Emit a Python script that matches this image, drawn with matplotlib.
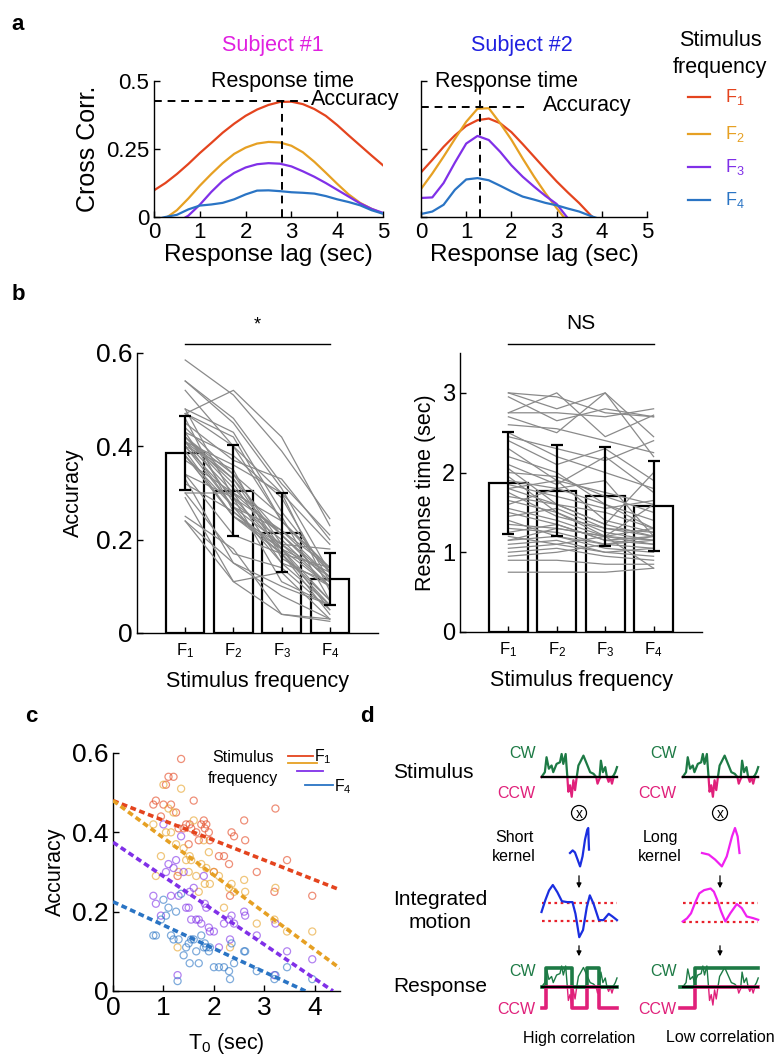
import numpy as np
import matplotlib.pyplot as plt
from matplotlib.lines import Line2D
from matplotlib.patches import Circle

plt.rcParams['font.family'] = ['Liberation Sans', 'DejaVu Sans']
plt.rcParams['mathtext.default'] = 'regular'
plt.rcParams['xtick.direction'] = 'in'
plt.rcParams['ytick.direction'] = 'in'

W, H = 774, 1055

# stimulus frequencies
freq_labels = ['F$_1$', 'F$_2$', 'F$_3$', 'F$_4$']
freq_colors = ['#e4441e', '#e6a023', '#8030e8', '#2a74c4']

# ---- panel a: cross correlation vs response lag (two subjects)
lag = np.arange(0, 5.01, 0.25)
nan = np.nan
s1_F1 = [0.098, 0.125, 0.158, 0.195, 0.235, 0.272, 0.31, 0.343, 0.372, 0.395, 0.412,
         0.423, 0.424, 0.415, 0.397, 0.372, 0.338, 0.3, 0.263, 0.226, 0.19]
s1_F2 = [-0.03, -0.005, 0.025, 0.068, 0.115, 0.158, 0.198, 0.232, 0.255, 0.27, 0.276,
         0.274, 0.262, 0.238, 0.203, 0.163, 0.122, 0.083, 0.052, 0.03, 0.013]
s1_F3 = [-0.06, -0.045, -0.02, 0.005, 0.045, 0.092, 0.133, 0.162, 0.182, 0.194, 0.198,
         0.196, 0.186, 0.168, 0.148, 0.125, 0.1, 0.075, 0.05, 0.03, 0.015]
s1_F4 = [-0.01, 0.0, 0.008, 0.028, 0.042, 0.046, 0.052, 0.065, 0.083, 0.097, 0.098,
         0.095, 0.091, 0.089, 0.086, 0.077, 0.065, 0.055, 0.043, 0.025, 0.012]
s2_F1 = [0.164, 0.21, 0.258, 0.3, 0.335, 0.356, 0.362, 0.345, 0.312, 0.268, 0.222,
         0.176, 0.131, 0.09, 0.051, 0.007, -0.03, nan, nan, nan, nan]
s2_F2 = [0.103, 0.16, 0.222, 0.287, 0.35, 0.398, 0.4, 0.345, 0.284, 0.215, 0.149,
         0.088, 0.033, -0.02, nan, nan, nan, nan, nan, nan, nan]
s2_F3 = [0.07, 0.072, 0.125, 0.2, 0.27, 0.298, 0.283, 0.24, 0.19, 0.148, 0.112,
         0.078, 0.048, -0.005, nan, nan, nan, nan, nan, nan, nan]
s2_F4 = [0.011, 0.02, 0.045, 0.1, 0.138, 0.143, 0.135, 0.115, 0.094, 0.075, 0.064,
         0.052, 0.043, 0.031, 0.02, 0.004, -0.01, nan, nan, nan, nan]
subject_titles = ['Subject #1', 'Subject #2']
subject_colors = ['#e020e0', '#2020e0']
resp_time = [2.8, 1.3]
acc_peak = [0.428, 0.405]

# ---- panel b / c: per-subject data
T0 = [0.80, 0.85, 0.95, 1.00, 1.05, 1.10, 1.15, 1.20, 1.25, 1.30, 1.35, 1.40, 1.45, 1.50,
      1.52, 1.55, 1.60, 1.65, 1.70, 1.75, 1.80, 1.82, 1.85, 1.90, 1.92, 2.00, 2.10, 2.20,
      2.30, 2.32, 2.35, 2.40, 2.60, 2.62, 2.85, 3.20, 3.22, 3.45, 3.95, 1.28]
acc_F1 = [0.47, 0.48, 0.44, 0.47, 0.52, 0.54, 0.47, 0.54, 0.45, 0.41, 0.585, 0.41, 0.42, 0.37,
          0.42, 0.41, 0.48, 0.40, 0.38, 0.42, 0.43, 0.41, 0.42, 0.40, 0.38, 0.30, 0.34, 0.34,
          0.32, 0.24, 0.40, 0.39, 0.43, 0.38, 0.30, 0.25, 0.46, 0.33, 0.24, 0.29]
acc_F2 = [0.42, 0.29, 0.34, 0.52, 0.40, 0.46, 0.40, 0.45, 0.37, 0.30, 0.51, 0.36, 0.33, 0.30,
          0.34, 0.33, 0.43, 0.29, 0.25, 0.32, 0.38, 0.27, 0.31, 0.35, 0.27, 0.30, 0.29, 0.21,
          0.26, 0.11, 0.27, 0.25, 0.28, 0.25, 0.17, 0.18, 0.26, 0.15, 0.15, 0.11]
acc_F3 = [0.24, 0.22, 0.19, 0.42, 0.30, 0.32, 0.24, 0.31, 0.33, 0.24, 0.39, 0.30, 0.21, 0.21,
          0.25, 0.18, 0.26, 0.18, 0.18, 0.17, 0.29, 0.22, 0.21, 0.16, 0.15, 0.15, 0.11, 0.17,
          0.18, 0.13, 0.19, 0.17, 0.20, 0.19, 0.14, 0.04, 0.17, 0.10, 0.08, 0.04]
acc_F4 = [0.14, 0.14, 0.18, 0.23, 0.19, 0.21, 0.14, 0.13, 0.20, 0.13, 0.245, 0.09, 0.11, 0.12,
          0.07, 0.13, 0.13, 0.10, 0.07, 0.14, 0.11, 0.12, 0.11, 0.10, 0.11, 0.06, 0.06, 0.06,
          0.05, 0.03, 0.12, 0.07, 0.10, 0.10, 0.05, 0.03, 0.04, 0.06, 0.03, 0.025]
rt_F1 = [3.0, 3.0, 2.95, 2.75, 2.75, 2.7, 2.6, 2.5, 2.4, 2.3, 2.2, 2.1, 2.05, 2.0, 1.95, 1.9,
         1.85, 1.8, 1.75, 1.7, 1.65, 1.6, 1.55, 1.5, 1.45, 1.4, 1.35, 1.3, 1.25, 1.2, 1.15,
         1.1, 1.05, 1.0, 0.9, 0.75, 0.95, 1.8, 2.45, 1.15]
rt_F2 = [2.95, 2.8, 2.65, 2.75, 3.0, 2.5, 2.55, 2.2, 2.1, 1.9, 2.0, 1.85, 1.6, 1.95, 1.5, 1.8,
         1.7, 1.9, 1.45, 1.6, 1.5, 1.8, 1.4, 1.35, 1.55, 1.2, 1.3, 1.25, 1.35, 1.1, 1.2,
         1.15, 1.1, 1.05, 0.9, 0.75, 1.0, 1.6, 2.3, 1.3]
rt_F3 = [2.75, 3.0, 2.8, 2.7, 2.45, 3.0, 2.4, 2.0, 2.3, 1.75, 1.6, 2.2, 1.35, 1.7, 1.2, 1.6,
         1.55, 1.4, 1.3, 1.5, 1.25, 1.9, 1.2, 1.15, 1.3, 1.1, 1.2, 1.1, 1.15, 1.2, 1.05,
         1.0, 1.0, 0.95, 0.85, 0.75, 1.1, 1.35, 2.15, 1.2]
rt_F4 = [2.7, 2.45, 2.7, 2.8, 2.72, 2.2, 2.25, 1.8, 1.9, 1.6, 1.3, 1.75, 1.2, 1.5, 1.15, 1.4,
         1.65, 1.25, 1.2, 1.3, 1.15, 1.2, 1.1, 1.2, 1.25, 1.15, 1.6, 1.05, 1.1, 1.3, 1.0,
         0.95, 1.05, 0.9, 0.85, 0.8, 1.2, 2.0, 2.4, 0.8]
acc_mean = [0.385, 0.305, 0.215, 0.115]
acc_sd = [0.079, 0.097, 0.085, 0.056]
rt_mean = [1.87, 1.77, 1.70, 1.58]
rt_sd = [0.635, 0.57, 0.615, 0.56]

# ---- panel c: regression lines accuracy vs T0
fit_intercept = [0.48, 0.48, 0.375, 0.225]
fit_slope = [-0.05, -0.094, -0.086, -0.059]

# ---- panel d: schematic traces (shape values, normalised)
stim_time = [0, 10, 15, 22, 30, 35, 45, 55, 60, 65, 72, 77, 80, 85, 90, 95, 100, 105, 110,
             115, 125, 135, 145, 155, 163, 167, 173, 177, 183, 190, 195, 200, 205, 210, 215,
             220, 225]
stim_value = [0, 0.21, 0.86, 0.36, 0.5, 0.21, 0.57, 0.64, 1.0, 0.57, 1.0, 0, -0.64, -0.36,
              -0.86, -0.14, -0.57, 0, 0.5, 0.64, 0.93, 0.57, 0.21, 0.14, 0, -0.29, -0.07,
              0.71, 0.21, 0.43, 0, -0.21, 0, -0.29, 0.07, 0.21, 0.43]
short_kernel_t = [0.0, 0.14, 0.26, 0.4, 0.53, 0.66, 0.79, 0.91, 0.96, 0.98, 1.0]
short_kernel_v = [-0.25, -0.12, -0.22, -0.58, -0.92, -0.42, 0.42, 0.92, 1.0, 0.42, -0.08]
long_kernel_t = [0, 0.18, 0.35, 0.53, 0.66, 0.8, 0.88, 0.95, 1.0]
long_kernel_v = [-0.25, -0.33, -0.58, -0.92, -0.42, 0.58, 1.0, 0.58, -0.25]
motion_short_t = [0, 0.05, 0.1, 0.15, 0.21, 0.27, 0.34, 0.41, 0.45, 0.5, 0.55, 0.6, 0.64,
                  0.69, 0.76, 0.82, 0.89, 0.94, 1.0]
motion_short_v = [0, 1.3, 2.4, 3.0, 2.2, 1.2, 1.1, 1.1, -0.2, -2.8, -2.0, 0.55, 1.85, 0.9,
                  -0.9, -0.9, -0.2, -0.5, -0.9]
motion_long_t = [0, 0.057, 0.11, 0.165, 0.22, 0.283, 0.37, 0.413, 0.457, 0.509, 0.565,
                 0.63, 0.717, 0.783, 0.848, 0.935, 1.0]
motion_long_v = [-1.0, -0.67, -0.14, 0.98, 1.96, 2.3, 2.47, 2.14, 1.28, 0.05, -1.0, -0.14,
                 0.84, 0.4, -0.47, -0.65, -0.82]
resp_high_edges = [0, 0.053, 0.4, 0.6, 0.756, 1.0]
resp_high_state = [-1, 1, -1, 1, -1]
resp_low_edges = [-0.03, 0.165, 1.0]
resp_low_state = [-1, 1]

green = '#1d7a45'
pink = '#e0207a'


def fx(x):
    return x / W


def fy(y):
    return 1 - y / H


def ax_rect(x0, y0, x1, y1):
    # pixel box -> figure fraction rect
    return [fx(x0), fy(y1), fx(x1) - fx(x0), fy(y0) - fy(y1)]


def matlab_style(ax, labelsize):
    for s in ['top', 'right']:
        ax.spines[s].set_visible(False)
    for s in ['left', 'bottom']:
        ax.spines[s].set_linewidth(1.0)
    ax.tick_params(labelsize=labelsize, length=4, width=1)


fig = plt.figure(figsize=(W / 100, H / 100), dpi=100)

# ================= panel a
s1 = [s1_F1, s1_F2, s1_F3, s1_F4]
s2 = [s2_F1, s2_F2, s2_F3, s2_F4]
a_boxes = [(154, 81, 383, 217), (421, 81, 647, 217)]
title_x = [273, 522]
hline_end = [3.36, 2.38]
vline_top = [0.45, 0.485]
label_x = [3.42, 2.7]
rt_label_x = [2.8, 1.9]
for k, curves in enumerate([s1, s2]):
    ax = fig.add_axes(ax_rect(*a_boxes[k]))
    for c, col in zip(curves, freq_colors):
        ax.plot(lag, c, color=col, lw=1.6)
    ax.plot([0, hline_end[k]], [acc_peak[k], acc_peak[k]], 'k--', lw=1.4, dashes=(4, 3),
            clip_on=False)
    ax.plot([resp_time[k], resp_time[k]], [0, vline_top[k]], 'k--', lw=1.4, dashes=(4, 3),
            clip_on=False)
    ax.text(rt_label_x[k], 0.5, 'Response time', ha='center', va='center', fontsize=15.5)
    ax.text(label_x[k], acc_peak[k] + 0.005, 'Accuracy', ha='left', va='center', fontsize=15.5)
    ax.set_xlim(0, 5)
    ax.set_ylim(0, 0.5)
    ax.set_xticks([0, 1, 2, 3, 4, 5])
    ax.set_yticks([0, 0.25, 0.5])
    matlab_style(ax, 16)
    if k == 0:
        ax.set_yticklabels(['0', '0.25', '0.5'])
        ax.set_ylabel('Cross Corr.', fontsize=18, labelpad=4)
    else:
        ax.set_yticklabels([])
    ax.set_xlabel('Response lag (sec)', fontsize=17.5, labelpad=1)
    fig.text(fx(title_x[k]), fy(45), subject_titles[k], color=subject_colors[k],
             ha='center', va='center', fontsize=15.5)

# legend for panel a
fig.text(fx(720), fy(41), 'Stimulus', ha='center', va='center', fontsize=15.5)
fig.text(fx(720), fy(67), 'frequency', ha='center', va='center', fontsize=15.5)
for i, (lab, col) in enumerate(zip(freq_labels, freq_colors)):
    yy = [97, 134, 167, 200][i]
    fig.add_artist(Line2D([fx(688), fx(710)], [fy(yy), fy(yy)], color=col, lw=1.6))
    fig.text(fx(735), fy(yy), lab, color=col, ha='center', va='center', fontsize=13)

# ================= panel b
xb = np.arange(1, 5)
acc_subj = list(zip(acc_F1, acc_F2, acc_F3, acc_F4))
rt_subj = list(zip(rt_F1, rt_F2, rt_F3, rt_F4))
b_sets = [
    ((137, 353, 378, 633), acc_subj, acc_mean, acc_sd, (0, 0.6), [0, 0.2, 0.4, 0.6],
     ['0', '0.2', '0.4', '0.6'], 'Accuracy', '*', 19, 8),
    ((460, 353, 702, 632), rt_subj, rt_mean, rt_sd, (0, 3.5), [0, 1, 2, 3],
     ['0', '1', '2', '3'], 'Response time (sec)', 'NS', 17, 4),
]
for box, subj, mean, sd, ylim, yt, ytl, ylab, sig, tsize, lpad in b_sets:
    ax = fig.add_axes(ax_rect(*box))
    ax.bar(xb, mean, width=0.8, facecolor='white', edgecolor='k', lw=1.6, zorder=1)
    for row in subj:
        ax.plot(xb, row, color='#8a8a8a', lw=0.9, zorder=2)
    ax.errorbar(xb, mean, yerr=sd, fmt='none', ecolor='k', elinewidth=1.6, capsize=4,
                capthick=1.6, zorder=3)
    ax.set_xlim(0, 5)
    ax.set_ylim(*ylim)
    ax.set_yticks(yt)
    ax.set_yticklabels(ytl)
    ax.set_xticks(xb)
    ax.set_xticklabels(freq_labels)
    matlab_style(ax, tsize)
    ax.tick_params(axis='x', labelsize=12, pad=6)
    ax.set_xlabel('Stimulus frequency', fontsize=15.5, labelpad=8)
    ax.set_ylabel(ylab, fontsize=15.5, labelpad=lpad)
    trans = ax.get_xaxis_transform()
    ax.plot([1, 4], [1.032, 1.032], color='k', lw=1, transform=trans, clip_on=False)
    ax.text(2.5, 1.07, sig, transform=trans, ha='center', va='bottom',
            fontsize=15 if sig == 'NS' else 13)

# ================= panel c
ax = fig.add_axes(ax_rect(113, 753, 340, 991))
accs = [acc_F1, acc_F2, acc_F3, acc_F4]
for acc, col in zip(accs, freq_colors):
    ax.scatter(T0, acc, s=26, facecolors='none', edgecolors=col, linewidths=0.9, alpha=0.6,
               zorder=2)
for b0, m, col in zip(fit_intercept, fit_slope, freq_colors):
    x_end = min(4.5, -b0 / m)
    xs = np.array([0, x_end])
    ax.plot(xs, b0 + m * xs, color=col, lw=2.6, ls=(0, (1.6, 1.0)), zorder=3)
ax.set_xlim(0, 4.5)
ax.set_ylim(0, 0.6)
ax.set_xticks([0, 1, 2, 3, 4])
ax.set_yticks([0, 0.2, 0.4, 0.6])
ax.set_yticklabels(['0', '0.2', '0.4', '0.6'])
matlab_style(ax, 19)
ax.set_xlabel('T$_0$ (sec)', fontsize=15.5, labelpad=8)
ax.set_ylabel('Accuracy', fontsize=15.5, labelpad=4)

# legend for panel c
fig.text(fx(243), fy(758), 'Stimulus', ha='center', va='center', fontsize=11.5)
fig.text(fx(243), fy(779), 'frequency', ha='center', va='center', fontsize=11.5)
c_leg = [(288, 313, 756), (288, 317, 763), (297, 323, 771), (305, 333, 785)]
for (x0, x1, yy), col in zip(c_leg, freq_colors):
    fig.add_artist(Line2D([fx(x0), fx(x1)], [fy(yy), fy(yy)], color=col, lw=1.3))
fig.text(fx(323), fy(757), freq_labels[0], ha='center', va='center', fontsize=11.5)
fig.text(fx(343), fy(787), freq_labels[3], ha='center', va='center', fontsize=11.5)

# ================= panel d (schematic, axes in pixel units)
axd = fig.add_axes(ax_rect(380, 725, 774, 1055))
axd.set_xlim(380, 774)
axd.set_ylim(1055, 725)
axd.axis('off')

st = np.array(stim_time) / max(stim_time)
sv = np.array(stim_value)


def draw_stim(x0, width, y0, amp, lw):
    xs = x0 + st * width
    axd.plot(xs, y0 - np.maximum(sv, 0) * amp, color=green, lw=lw, zorder=2)
    axd.plot(xs, y0 - np.minimum(sv, 0) * amp, color=pink, lw=lw, zorder=2)
    axd.plot([x0, x0 + width], [y0, y0], color='k', lw=1.6, zorder=4)


def draw_response(x0, width, y0, edges, state, up, down):
    xs, ys = [], []
    for e0, e1, s in zip(edges[:-1], edges[1:], state):
        xs += [x0 + e0 * width, x0 + e1 * width]
        ys += [s, s]
    ys = np.array(ys, dtype=float)
    xs = np.array(xs)
    axd.plot(xs, y0 - np.maximum(ys, 0) * up, color=green, lw=2.6, zorder=3)
    axd.plot(xs, y0 - np.minimum(ys, 0) * down, color=pink, lw=2.6, zorder=3)


cols = [541.5, 682.7]
trace_w = 75.5
kernels = [(short_kernel_t, short_kernel_v, 570, 19, '#1a2ee0', 'Short\nkernel', 514),
           (long_kernel_t, long_kernel_v, 702, 37.5, '#f020f0', 'Long\nkernel', 660)]
motions = [(motion_short_t, motion_short_v, '#1a2ee0', 9.0),
           (motion_long_t, motion_long_v, '#f020f0', 9.5)]
responses = [(resp_high_edges, resp_high_state), (resp_low_edges, resp_low_state)]
centres = [579, 720]
captions = ['High correlation', 'Low correlation']

for j in range(2):
    x0 = cols[j]
    cx = centres[j]
    # stimulus
    draw_stim(x0, trace_w, 777, 23, 1.6)
    axd.text(x0 - 6, 753, 'CW', color=green, ha='right', va='center', fontsize=11.5)
    axd.text(x0 - 6, 793, 'CCW', color=pink, ha='right', va='center', fontsize=11.5)
    # convolution symbol
    axd.add_patch(Circle((cx, 813), 7.5, fill=False, lw=0.9, color='k'))
    axd.text(cx, 813.5, 'x', ha='center', va='center', fontsize=10)
    # kernel
    kt, kv, kx0, kw, kcol, klab, klx = kernels[j]
    axd.plot(kx0 + np.array(kt) * kw, 848 - np.array(kv) * 20, color=kcol, lw=1.6)
    axd.text(klx, 847, klab, ha='center', va='center', fontsize=11.5, linespacing=1.35)
    # arrows
    for ya, yb in [(873, 891), (943, 959)]:
        axd.annotate('', xy=(cx, yb), xytext=(cx, ya),
                     arrowprops=dict(arrowstyle='-|>', color='k', lw=0.9,
                                     mutation_scale=7))
    # integrated motion
    mt, mv, mcol, mscale = motions[j]
    yc = 912
    axd.plot(x0 + np.array(mt) * trace_w, yc - np.array(mv) * mscale, color=mcol, lw=1.6,
             zorder=3)
    for lev in [-1, 1]:
        axd.plot([x0, x0 + trace_w], [yc - lev * mscale] * 2, color='#e8202a', lw=1.6,
                 ls=(0, (1.2, 1.6)), zorder=2)
    # response
    edges, state = responses[j]
    draw_response(x0, trace_w, 987, edges, state, 19, 21)
    draw_stim(x0, trace_w, 987, 21, 1.0)
    axd.text(x0 - 6, 971, 'CW', color=green, ha='right', va='center', fontsize=11.5)
    axd.text(x0 - 6, 1009, 'CCW', color=pink, ha='right', va='center', fontsize=11.5)
    axd.text(cx, 1038, captions[j], ha='center', va='center', fontsize=11.5)

axd.text(393, 772, 'Stimulus', ha='left', va='center', fontsize=15)
axd.text(440, 911, 'Integrated\nmotion', ha='center', va='center', fontsize=15,
         linespacing=1.3)
axd.text(393, 987, 'Response', ha='left', va='center', fontsize=15)

# panel letters
for lab, (px, py) in zip('abcd', [(18, 25), (18, 295), (31, 716), (367, 716)]):
    fig.text(fx(px), fy(py), lab, ha='center', va='center', fontsize=16, weight='bold')

fig.savefig('out.png', dpi=100)
